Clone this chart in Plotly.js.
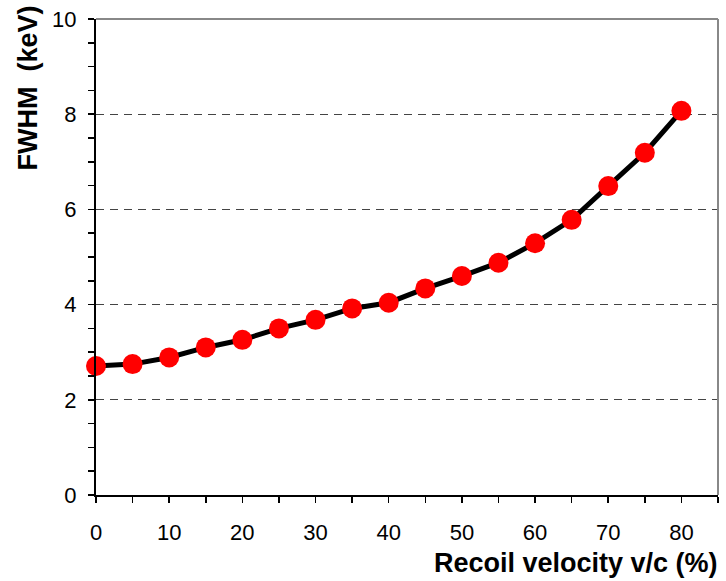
<!DOCTYPE html>
<html>
<head>
<meta charset="utf-8">
<script src="https://cdn.plot.ly/plotly-3.0.1.min.js"></script>
<style>html,body{margin:0;padding:0;background:#fff;}#chart{width:726px;height:581px;}</style>
</head>
<body>
<div id="chart"></div>
<script>
const velocity = [0, 5, 10, 15, 20, 25, 30, 35, 40, 45, 50, 55, 60, 65, 70, 75, 80];
const fwhm = [2.71, 2.75, 2.89, 3.10, 3.26, 3.50, 3.68, 3.92, 4.04, 4.34, 4.60, 4.88, 5.29, 5.78, 6.49, 7.19, 8.07];
const xTitle = 'Recoil velocity v/c (%)';
const yTitle = 'FWHM  (keV)';

const font = 'Liberation Sans, Arial, sans-serif';

Plotly.newPlot('chart', [{
  x: velocity, y: fwhm, type: 'scatter', mode: 'lines+markers',
  line: {color: '#000', width: 5},
  marker: {color: '#ff0000', size: 20, line: {width: 0}},
  cliponaxis: false, hoverinfo: 'skip'
}], {
  width: 726, height: 581,
  margin: {l: 96, r: 8, t: 19, b: 86},
  paper_bgcolor: '#fff', plot_bgcolor: '#fff',
  showlegend: false,
  font: {family: font, color: '#000', size: 22},
  xaxis: {
    range: [0, 85], dtick: 10, tick0: 0,
    ticks: 'outside', ticklen: 6, tickwidth: 1.5, tickcolor: '#000',
    showline: true, linecolor: '#000', linewidth: 2,
    showgrid: false, zeroline: false,
    ticklabelstandoff: 11,
    tickfont: {size: 22, family: font},
    minor: {dtick: 5, ticks: 'outside', ticklen: 6, tickwidth: 1.5, tickcolor: '#000', showgrid: false}
  },
  yaxis: {
    range: [0, 10], dtick: 2, tick0: 0,
    ticks: 'outside', ticklen: 6, tickwidth: 1.5, tickcolor: '#000',
    showline: true, linecolor: '#000', linewidth: 2,
    showgrid: true, gridcolor: '#444', gridwidth: 1, griddash: '8px,6px',
    zeroline: false,
    ticklabelstandoff: 7,
    tickfont: {size: 22, family: font},
    minor: {dtick: 0.5, ticks: 'outside', ticklen: 6, tickwidth: 1.5, tickcolor: '#000', showgrid: false}
  },
  shapes: [
    {type: 'line', xref: 'paper', yref: 'paper', x0: 0, x1: 1, y0: 1, y1: 1, line: {color: '#888', width: 2}},
    {type: 'line', xref: 'paper', yref: 'paper', x0: 1, x1: 1, y0: 0, y1: 1, line: {color: '#888', width: 2}}
  ],
  annotations: [
    {text: xTitle, xref: 'paper', yref: 'paper', x: 1, y: 0, xanchor: 'right', yanchor: 'middle',
     yshift: -68, xshift: 2, showarrow: false, font: {size: 27, family: font, weight: 'bold'}},
    {text: yTitle, xref: 'paper', yref: 'paper', x: 0, y: 1, xanchor: 'center', yanchor: 'top',
     xshift: -69, yshift: 15, textangle: -90, showarrow: false, font: {size: 27, family: font, weight: 'bold'}}
  ]
}, {displayModeBar: false, staticPlot: true});
</script>
</body>
</html>
